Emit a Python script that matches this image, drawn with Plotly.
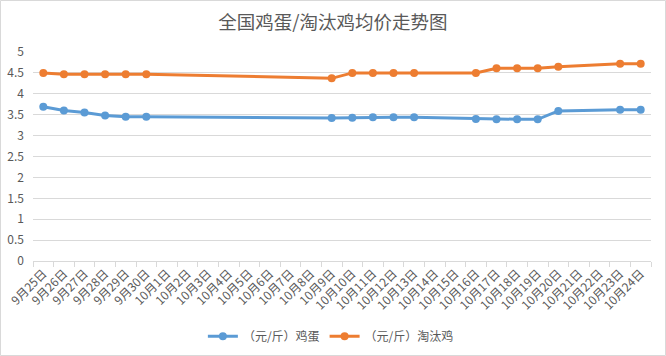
import plotly.graph_objects as go

dates = ["9月25日", "9月26日", "9月27日", "9月28日", "9月29日", "9月30日"] + [f"10月{d}日" for d in range(1, 25)]

egg = {
    "9月25日": 3.69, "9月26日": 3.60, "9月27日": 3.55, "9月28日": 3.48, "9月29日": 3.45, "9月30日": 3.45,
    "10月9日": 3.42, "10月10日": 3.43, "10月11日": 3.44, "10月12日": 3.44, "10月13日": 3.44,
    "10月16日": 3.40, "10月17日": 3.39, "10月18日": 3.39, "10月19日": 3.39, "10月20日": 3.59,
    "10月23日": 3.62, "10月24日": 3.62,
}
hen = {
    "9月25日": 4.50, "9月26日": 4.47, "9月27日": 4.47, "9月28日": 4.47, "9月29日": 4.47, "9月30日": 4.47,
    "10月9日": 4.37, "10月10日": 4.50, "10月11日": 4.50, "10月12日": 4.50, "10月13日": 4.50,
    "10月16日": 4.50, "10月17日": 4.61, "10月18日": 4.61, "10月19日": 4.61, "10月20日": 4.65,
    "10月23日": 4.72, "10月24日": 4.72,
}
egg_vals = [egg.get(d) for d in dates]
hen_vals = [hen.get(d) for d in dates]

font = "Noto Sans CJK SC, Microsoft YaHei, sans-serif"
grey = "#595959"

fig = go.Figure()
fig.add_trace(go.Scatter(x=dates, y=egg_vals, name="（元/斤）鸡蛋", mode="lines+markers",
                         connectgaps=True, line=dict(color="#5B9BD5", width=3),
                         marker=dict(size=8, color="#5B9BD5")))
fig.add_trace(go.Scatter(x=dates, y=hen_vals, name="（元/斤）淘汰鸡", mode="lines+markers",
                         connectgaps=True, line=dict(color="#ED7D31", width=3),
                         marker=dict(size=8, color="#ED7D31")))

fig.update_layout(
    width=666, height=356,
    margin=dict(l=33, r=15, t=52, b=95, autoexpand=False),
    paper_bgcolor="white", plot_bgcolor="white",
    font=dict(family=font, color=grey, size=12),
    title=dict(text="全国鸡蛋/淘汰鸡均价走势图", x=0.5, xanchor="center", y=1 - 23 / 356, yanchor="middle",
               font=dict(size=18.5, color=grey, family=font)),
    legend=dict(orientation="h", x=0.482, xanchor="center", y=-0.36, yanchor="middle",
                font=dict(size=12, color=grey, family=font)),
    showlegend=True,
)
fig.update_xaxes(type="category", categoryorder="array", categoryarray=dates, automargin=False,
                 tickangle=-45, showgrid=False, showline=True, linecolor="#d9d9d9", linewidth=1,
                 ticks="outside", ticklen=5, tickcolor="#d9d9d9", tickson="boundaries",
                 tickfont=dict(size=12, color=grey), range=[-0.5, 29.5])
fig.update_yaxes(range=[0, 5], dtick=0.5, showgrid=True, gridcolor="#d9d9d9", gridwidth=1, automargin=False,
                 zeroline=False, showline=False, tickfont=dict(size=12, color=grey),
                 ticklabelstandoff=8)

fig.add_shape(type="rect", xref="paper", yref="paper",
              x0=(0.5 - 33) / 618, x1=(665.5 - 33) / 618,
              y0=(261 - 355.5) / 209, y1=(261 - 0.5) / 209,
              line=dict(color="#d9d9d9", width=1))

fig.write_html("out.html", config={"displayModeBar": False},
               post_script="document.body.style.margin='0';document.body.style.overflow='hidden';")
